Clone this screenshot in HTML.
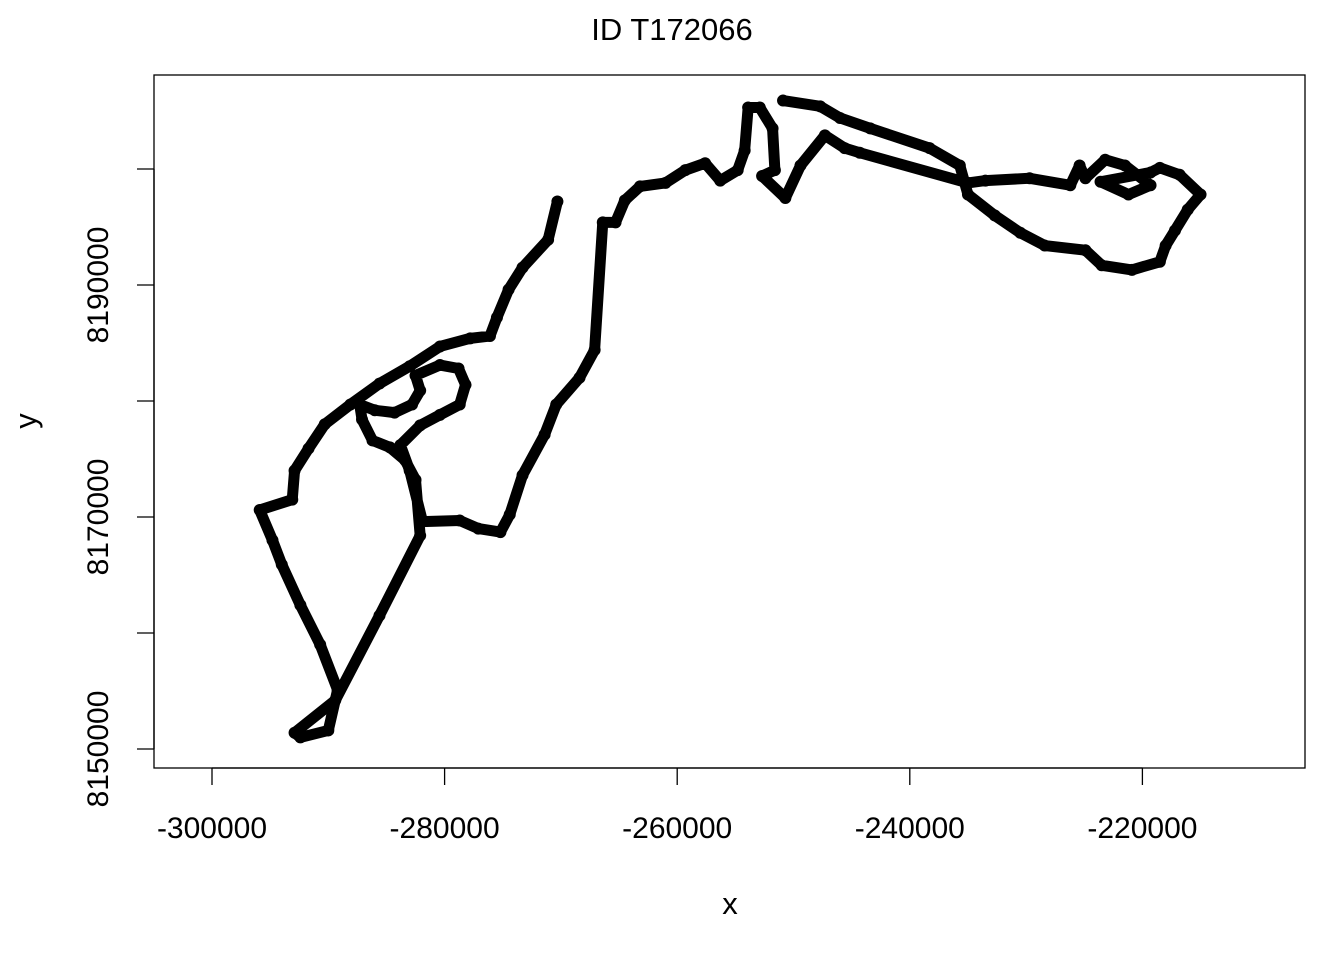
<!DOCTYPE html>
<html><head><meta charset="utf-8"><style>
body{margin:0;background:#fff;}
svg{display:block;font-family:"Liberation Sans",Arial,sans-serif;}
</style></head><body>
<svg id="chart" width="1344" height="960" viewBox="0 0 1344 960">
<text x="672" y="40" text-anchor="middle" font-size="31">ID T172066</text>
<rect x="154" y="75" width="1151" height="693" fill="none" stroke="#000" stroke-width="1.3"/>
<g id="xaxis"></g>
<g id="yaxis"></g>
<text x="730" y="914" text-anchor="middle" font-size="31">x</text>
<text transform="translate(36,421) rotate(-90)" text-anchor="middle" font-size="31">y</text>
<g id="marks"></g>
</svg>
<script>
// positions in km (x: easting, y: northing)
const xs = [-270.3,-271.1,-273.3,-274.5,-275.5,-276.1,-277.8,-280.4,-283.0,-285.6,-288.1,-290.3,-291.7,-292.9,-293.1,-295.9,-294.8,-294.0,-292.4,-290.7,-289.2,-290.0,-292.4,-292.9,-289.4,-285.6,-282.1,
-282.5,-283.4,-284.7,-286.2,-287.1,-287.3,-286.0,-284.3,-282.8,-282.1,-282.5,-280.4,-278.8,-278.2,-278.7,-280.4,-282.1,-283.8,-283.0,-281.9,
-278.7,-277.1,-275.2,-274.4,-273.3,-271.4,-270.4,-268.4,-267.1,-266.4,-265.3,-264.5,-263.2,-261.0,-259.3,-257.6,-256.3,-254.8,-254.2,-253.9,-252.9,-251.8,-251.6,-252.7,-250.7,-249.4,-247.3,-245.6,-244.3,-235.0,-233.5,-229.7,-226.2,-225.4,-224.9,-223.2,-221.5,-219.3,-221.2,-223.6,-219.3,-218.5,-216.8,-215.0,-216.1,-217.2,-218.0,-218.5,-220.9,-223.5,-224.9,-228.4,-230.5,-232.7,-235.0,-235.7,-238.3,-243.4,-246.0,-247.7,-250.9];
const ys = [8197.2,8193.9,8191.5,8189.6,8187.2,8185.6,8185.4,8184.7,8183.0,8181.5,8179.7,8178.0,8175.9,8174.0,8171.5,8170.6,8168.0,8165.9,8162.4,8159.0,8155.1,8151.6,8151.0,8151.4,8154.2,8161.5,8168.4,
8173.2,8174.9,8176.0,8176.6,8178.4,8179.7,8179.2,8179.0,8179.7,8180.9,8182.2,8183.1,8182.8,8181.4,8179.7,8178.8,8177.9,8176.2,8174.0,8169.6,
8169.7,8169.0,8168.7,8170.2,8173.6,8177.1,8179.7,8182.0,8184.4,8195.4,8195.4,8197.3,8198.5,8198.8,8199.9,8200.5,8199.0,8199.9,8201.6,8205.3,8205.3,8203.5,8199.9,8199.4,8197.5,8200.3,8202.9,8201.8,8201.4,8198.8,8199.0,8199.2,8198.6,8200.3,8199.2,8200.8,8200.3,8198.6,8197.8,8198.9,8199.7,8200.1,8199.5,8197.8,8196.5,8194.7,8193.4,8192.0,8191.3,8191.7,8193.0,8193.4,8194.5,8196.0,8197.8,8200.3,8201.8,8203.5,8204.4,8205.4,8205.9];
const xTicks = [-300000,-280000,-260000,-240000,-220000];
const xTickLabels = ["-300000","-280000","-260000","-240000","-220000"];
const yTicks = [8150000,8160000,8170000,8180000,8190000,8200000];
const yTickLabels = ["8150000","","8170000","","8190000",""];

const NS="http://www.w3.org/2000/svg";
function sx(v){return 212+(v+300000)*0.011630;}
function sy(v){return 749-(v-8150000)*0.0116;}
function mk(tag,attrs,parent){const e=document.createElementNS(NS,tag);for(const k in attrs)e.setAttribute(k,attrs[k]);parent.appendChild(e);return e;}

const xa=document.getElementById('xaxis');
mk('line',{x1:sx(xTicks[0]),x2:sx(xTicks[xTicks.length-1]),y1:768,y2:768,stroke:'#000','stroke-width':1.3},xa);
xTicks.forEach((t,i)=>{
  const l=mk('line',{x1:sx(t),x2:sx(t),y1:768,y2:785,stroke:'#000','stroke-width':1.3},xa);
  
  
  const tx=mk('text',{x:sx(t),y:838,'text-anchor':'middle','font-size':30},xa);
  tx.textContent=xTickLabels[i];
  
  
});
const ya=document.getElementById('yaxis');
mk('line',{x1:154,x2:154,y1:sy(yTicks[0]),y2:sy(yTicks[yTicks.length-1]),stroke:'#000','stroke-width':1.3},ya);
yTicks.forEach((t,i)=>{
  const l=mk('line',{x1:137,x2:154,y1:sy(t),y2:sy(t),stroke:'#000','stroke-width':1.3},ya);
  
  
  if(yTickLabels[i]){
    const tx=mk('text',{transform:`translate(108,${sy(t)}) rotate(-90)`,'text-anchor':'middle','font-size':30},ya);
    tx.textContent=yTickLabels[i];
    
    
  }
});
const g=document.getElementById('marks');
const pts=xs.map((x,i)=>sx(x*1000)+','+sy(ys[i]*1000)).join(' ');
const pl=mk('polyline',{points:pts,fill:'none',stroke:'#000','stroke-width':11,'stroke-linejoin':'round','stroke-linecap':'round'},g);


xs.forEach((x,i)=>{
  const c=mk('circle',{cx:sx(x*1000),cy:sy(ys[i]*1000),r:6,fill:'#000'},g);
  
  
});
</script>
</body></html>
